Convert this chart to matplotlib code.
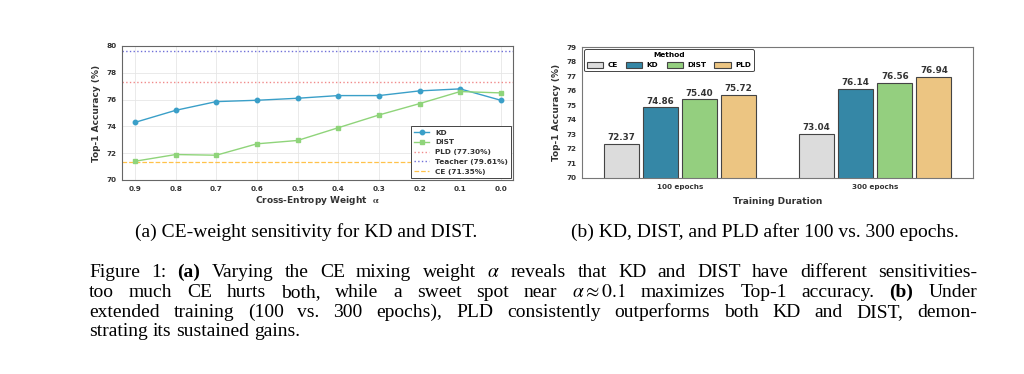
import numpy as np
import matplotlib
matplotlib.use("Agg")
import matplotlib.pyplot as plt

plt.rcParams['mathtext.fontset'] = 'stix'

# data: CE-weight sweep
alphas = ['0.9', '0.8', '0.7', '0.6', '0.5', '0.4', '0.3', '0.2', '0.1', '0.0']
kd_acc = [74.3, 75.2, 75.85, 75.95, 76.1, 76.3, 76.3, 76.65, 76.8, 75.95]
dist_acc = [71.4, 71.9, 71.85, 72.7, 72.95, 73.9, 74.85, 75.7, 76.6, 76.5]
pld_ref = 77.30
teacher_ref = 79.61
ce_ref = 71.35

# data: training duration
durations = ['100 epochs', '300 epochs']
methods = ['CE', 'KD', 'DIST', 'PLD']
ce_bar = [72.37, 73.04]
kd_bar = [74.86, 76.14]
dist_bar = [75.40, 76.56]
pld_bar = [75.72, 76.94]

fig = plt.figure(figsize=(10.24, 3.74), dpi=100)
W, H = 1024, 374

def ax_rect(x0, y0, x1, y1):
    return [x0 / W, 1 - y1 / H, (x1 - x0) / W, (y1 - y0) / H]

# ---- left panel
ax1 = fig.add_axes(ax_rect(122, 46, 513, 180))
x = np.arange(len(alphas))
ax1.grid(True, color='#e6e6e6', lw=0.6)
ax1.set_axisbelow(True)
ax1.axhline(pld_ref, color='#f08a8a', ls=':', lw=1.0, label='PLD (%.2f%%)' % pld_ref)
ax1.axhline(teacher_ref, color='#7070d8', ls=':', lw=1.0, label='Teacher (%.2f%%)' % teacher_ref)
ax1.axhline(ce_ref, color='#ffc24a', ls='--', lw=0.9, label='CE (%.2f%%)' % ce_ref)
ax1.plot(x, kd_acc, color='#3a9fc8', marker='o', ms=3.2, lw=1.0, label='KD')
ax1.plot(x, dist_acc, color='#8fd47a', marker='s', ms=3.4, lw=1.0, label='DIST')
ax1.set_xlim(-0.32, 9.3)
ax1.set_ylim(70, 80)
ax1.set_yticks([70, 72, 74, 76, 78, 80])
ax1.set_xticks(x)
ax1.set_xticklabels(alphas)
ax1.tick_params(labelsize=5.2, length=0, pad=4, labelcolor='#333333')
for t in ax1.get_xticklabels() + ax1.get_yticklabels():
    t.set_fontweight('bold')
ax1.set_xlabel(r'Cross-Entropy Weight  $\mathbf{\alpha}$', fontsize=6.5, fontweight='bold', color='#333333', labelpad=2)
ax1.set_ylabel('Top-1 Accuracy (%)', fontsize=6.5, fontweight='bold', color='#333333', labelpad=4)
for s in ax1.spines.values():
    s.set_color('#666666')
    s.set_linewidth(0.8)
h, l = ax1.get_legend_handles_labels()
order = [3, 4, 0, 1, 2]
leg1 = ax1.legend([h[i] for i in order], [l[i] for i in order], loc='lower right',
                  prop={'size': 5.3, 'weight': 'bold'}, frameon=True, fancybox=False,
                  edgecolor='#444444', framealpha=1, borderaxespad=0.3, handlelength=2.0,
                  labelspacing=0.5)
leg1.get_frame().set_linewidth(0.7)
for t in leg1.get_texts():
    t.set_color('#333333')

# ---- right panel
ax2 = fig.add_axes(ax_rect(582, 47, 973, 178))
xb = np.arange(len(durations))
bw = 0.18
colors = ['#dcdcdc', '#3587a6', '#94cf7f', '#ecc582']
series = [ce_bar, kd_bar, dist_bar, pld_bar]
for i, (m, vals, c) in enumerate(zip(methods, series, colors)):
    bars = ax2.bar(xb + (i - 1.5) * 0.2, vals, bw, color=c, edgecolor='#444444', lw=0.8, label=m)
    for b, v in zip(bars, vals):
        ax2.text(b.get_x() + b.get_width() / 2, v + 0.12, '%.2f' % v, ha='center', va='bottom',
                 fontsize=6.3, fontweight='bold', color='#333333')
ax2.set_xlim(-0.5, 1.5)
ax2.set_ylim(70, 79)
ax2.set_yticks(range(70, 80))
ax2.set_xticks(xb)
ax2.set_xticklabels(durations)
ax2.tick_params(labelsize=5.2, length=0, pad=4, labelcolor='#333333')
for t in ax2.get_xticklabels() + ax2.get_yticklabels():
    t.set_fontweight('bold')
ax2.set_xlabel('Training Duration', fontsize=6.5, fontweight='bold', color='#333333', labelpad=5)
ax2.set_ylabel('Top-1 Accuracy (%)', fontsize=6.5, fontweight='bold', color='#333333', labelpad=4)
for s in ax2.spines.values():
    s.set_color('#777777')
    s.set_linewidth(0.8)
leg2 = ax2.legend(loc='upper left', ncol=4, title='Method', prop={'size': 5.3, 'weight': 'bold'},
                  title_fontproperties={'size': 5.3, 'weight': 'bold'}, frameon=True,
                  fancybox=True, edgecolor='#444444', framealpha=1, borderaxespad=0.3,
                  handlelength=2.2, handleheight=0.9, columnspacing=1.1, handletextpad=0.6)
leg2.get_frame().set_linewidth(0.7)

# ---- captions
serif = 'Liberation Serif'
fs = 14.0
fig.text(306 / W, 1 - 237 / H, '(a) CE-weight sensitivity for KD and DIST.', ha='center', va='baseline',
         fontsize=fs, family=serif)
fig.text(765 / W, 1 - 237 / H, '(b) KD, DIST, and PLD after 100 vs. 300 epochs.', ha='center', va='baseline',
         fontsize=fs, family=serif)

cap_lines = [
    [('Figure', 0), ('1:', 0), ('(a)', 1), ('Varying', 0), ('the', 0), ('CE', 0), ('mixing', 0), ('weight', 0),
     (r'$\alpha$', 0), ('reveals', 0), ('that', 0), ('KD', 0), ('and', 0), ('DIST', 0), ('have', 0),
     ('different', 0), ('sensitivities-', 0)],
    [('too', 0), ('much', 0), ('CE', 0), ('hurts', 0), ('both,', 0), ('while', 0), ('a', 0), ('sweet', 0),
     ('spot', 0), ('near', 0), (r'$\alpha\approx0.1$', 0), ('maximizes', 0), ('Top-1', 0), ('accuracy.', 0),
     ('(b)', 1), ('Under', 0)],
    [('extended', 0), ('training', 0), ('(100', 0), ('vs.', 0), ('300', 0), ('epochs),', 0), ('PLD', 0),
     ('consistently', 0), ('outperforms', 0), ('both', 0), ('KD', 0), ('and', 0), ('DIST,', 0), ('demon-', 0)],
    [('strating', 0), ('its', 0), ('sustained', 0), ('gains.', 0)],
]
x_left, x_right = 89, 977
line_y = [277, 297, 317, 336]
renderer = fig.canvas.get_renderer()
for li, (words, yy) in enumerate(zip(cap_lines, line_y)):
    texts = []
    for w, b in words:
        t = fig.text(0, 1 - yy / H, w, ha='left', va='baseline', fontsize=fs, family=serif,
                     fontweight='bold' if b else 'normal')
        texts.append(t)
    widths = [t.get_window_extent(renderer).width for t in texts]
    if li < len(cap_lines) - 1:
        gap = (x_right - x_left - sum(widths)) / (len(texts) - 1)
    else:
        gap = fs * 100 / 72 * 0.25
    xx = x_left
    for t, wd in zip(texts, widths):
        t.set_x(xx / W)
        xx += wd + gap

fig.savefig('out.png', dpi=100)
